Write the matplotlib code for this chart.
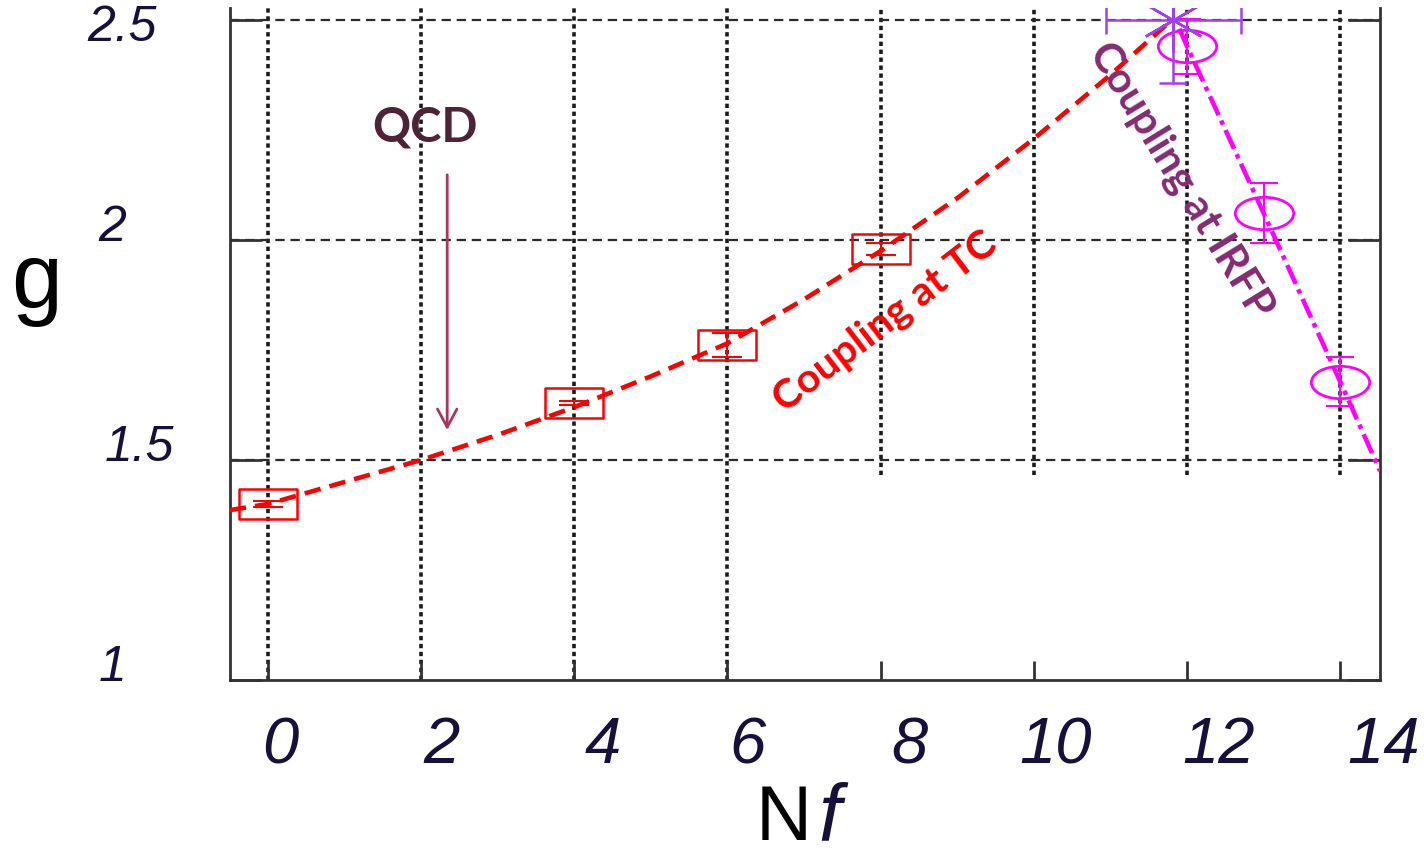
import numpy as np
import matplotlib
matplotlib.use('Agg')
import matplotlib.pyplot as plt
from matplotlib.path import Path
from matplotlib.transforms import Affine2D, ScaledTranslation

# coupling at the finite-temperature transition (TC)
nf_tc = [0, 4, 6, 8]
g_tc = [1.40, 1.63, 1.762, 1.98]
g_tc_err = [0.007, 0.004, 0.027, 0.014]

# dashed guide through the TC points
nf_tc_curve = [-0.5, 0, 1, 2, 3, 4, 5, 6, 7, 8, 9, 10, 11, 11.8]
g_tc_curve = [1.386, 1.40, 1.45, 1.50, 1.557, 1.62, 1.69, 1.765, 1.865,
              1.975, 2.095, 2.23, 2.375, 2.50]

# coupling at the IR fixed point
nf_irfp = [12, 13, 14]
g_irfp = [2.44, 2.061, 1.678]
g_irfp_err = [0.063, 0.068, 0.055]

nf_irfp_line = [11.9, 12, 13, 14, 14.52]
g_irfp_line = [2.48, 2.44, 2.061, 1.678, 1.475]

# where the two lines meet
nf_cross = [11.82]
g_cross = [2.50]
nf_cross_err = [0.88]
g_cross_err = [0.143]

xticks = [0, 2, 4, 6, 8, 10, 12, 14]
xtick_labels = ['0', '2', '4', '6', '8', '10', '12', '14']
yticks = [1, 1.5, 2, 2.5]
ytick_labels = ['1', '1.5', '2', '2.5']

navy = '#170f3c'
W, H = 1424, 857

fig = plt.figure(figsize=(W / 100, H / 100), dpi=100)
ax = fig.add_axes([230 / W, 177 / H, 1150 / W, 672 / H])
x0, x1 = -0.496, 14.52
y0, y1 = 1.0, 2.527
ax.set_xlim(x0, x1)
ax.set_ylim(y0, y1)

# grid drawn by hand, the lower right corner stays empty
dot = (0, (1.2, 1.0))
ax.vlines(xticks[:4], y0, y1, colors='#1a1a1a', linestyles=dot, lw=2.6, zorder=1)
ax.vlines(xticks[4:], 1.466, y1, colors='#1a1a1a', linestyles=dot, lw=2.6, zorder=1)
ax.hlines(yticks[1:], x0, x1, colors='#2a2a2a', linestyles=(0, (4.2, 2.6)), lw=1.6, zorder=1)

# TC points and curve
box = Path([(-29, -15), (29, -15), (29, 15), (-29, 15), (-29, -15)], closed=True)
ax.plot(nf_tc_curve, g_tc_curve, color='red', lw=3.3, ls=(0, (3.6, 2.0)), zorder=3)
ax.errorbar(nf_tc, g_tc, yerr=g_tc_err, fmt='none', ecolor='red',
            elinewidth=1.5, capsize=11, capthick=1.5, zorder=4)
ax.plot(nf_tc, g_tc, ls='none', marker=box, ms=42, mfc='none', mec='red', mew=1.8, zorder=4)

# IRFP points and line
ellipse = Path.unit_circle().transformed(Affine2D().scale(1.8, 1.0))
ax.plot(nf_irfp_line, g_irfp_line, color='#ff00ff', lw=3.3,
        ls=(0, (4.5, 1.3, 1.0, 1.3)), zorder=3)
ax.errorbar(nf_irfp, g_irfp, yerr=g_irfp_err, fmt='none', ecolor='#ff00ff',
            elinewidth=1.5, capsize=10, capthick=1.5, zorder=4)
ax.plot(nf_irfp, g_irfp, ls='none', marker=ellipse, ms=42, mfc='none',
        mec='#ff00ff', mew=2.0, zorder=4)

# crossing point
ax.errorbar(nf_cross, g_cross, xerr=nf_cross_err, yerr=g_cross_err, fmt='none',
            ecolor='#a040ee', elinewidth=1.8, capsize=10, capthick=1.8, zorder=5)
ax.plot(nf_cross, g_cross, ls='none', marker=(6, 2, 0), ms=46, mec='#a040ee',
        mew=1.8, zorder=5)

# annotations
ax.text(2.05, 2.255, 'QCD', color='#4e2338', fontsize=34, fontweight='bold',
        family='Lato', ha='center', va='center')
ax.annotate('', xy=(2.34, 1.568), xytext=(2.34, 2.148),
            arrowprops=dict(arrowstyle='->,head_length=1.3,head_width=0.7',
                            color='#a8375f', lw=2, shrinkA=0, shrinkB=0))
ax.text(8.06, 1.814, 'Coupling at TC', color='red', fontsize=29.5, fontweight='bold',
        family='Lato', rotation=37.5, rotation_mode='anchor', ha='center', va='center')
ax.text(11.92, 2.135, 'Coupling at IRFP', color='#862a72', fontsize=30.5,
        fontweight='bold', family='Lato', rotation=-58.5, rotation_mode='anchor',
        ha='center', va='center')

# axes frame and ticks
for side in ['left', 'right', 'bottom']:
    ax.spines[side].set_color('#333333')
    ax.spines[side].set_linewidth(2.0)
ax.spines['top'].set_visible(False)

ax.set_xticks(xticks, xtick_labels)
ax.set_yticks(yticks, ytick_labels)
ax.tick_params(axis='x', direction='in', length=14, width=2.0, color='#333333',
               top=False, pad=0, labelsize=47, labelcolor=navy)
ax.tick_params(axis='y', direction='in', length=23, width=2.0, color='#333333',
               right=True, pad=0, labelsize=36, labelcolor=navy)

x_shift = [12, 20, 28, 20, 29, 22, 32, 43]
for lab, dx in zip(ax.get_xticklabels(), x_shift):
    lab.set_family('Liberation Sans')
    lab.set_style('italic')
    lab.set_transform(lab.get_transform() +
                      ScaledTranslation(dx / 100, -36 / 100, fig.dpi_scale_trans))

y_center = [113, 139, 112, 122]
y_shift = [12, 12, 12, -8]
for lab, cx, dy in zip(ax.get_yticklabels(), y_center, y_shift):
    lab.set_family('Liberation Sans')
    lab.set_style('italic')
    lab.set_ha('center')
    lab.set_va('center')
    lab.set_transform(lab.get_transform() +
                      ScaledTranslation((cx - 230) / 100, dy / 100, fig.dpi_scale_trans))

# axis titles
fig.text(37 / W, 1 - 308 / H, 'g', fontsize=66, family='Liberation Sans',
         ha='center', va='baseline', color='black')
fig.text(784 / W, 1 - 840 / H, 'N', fontsize=56, family='Liberation Sans',
         ha='center', va='baseline', color='black')
fig.text(818 / W, 1 - 840 / H, 'f', fontsize=58, family='Liberation Sans',
         style='italic', ha='left', va='baseline', color=navy)

fig.savefig('out.png', dpi=100)
